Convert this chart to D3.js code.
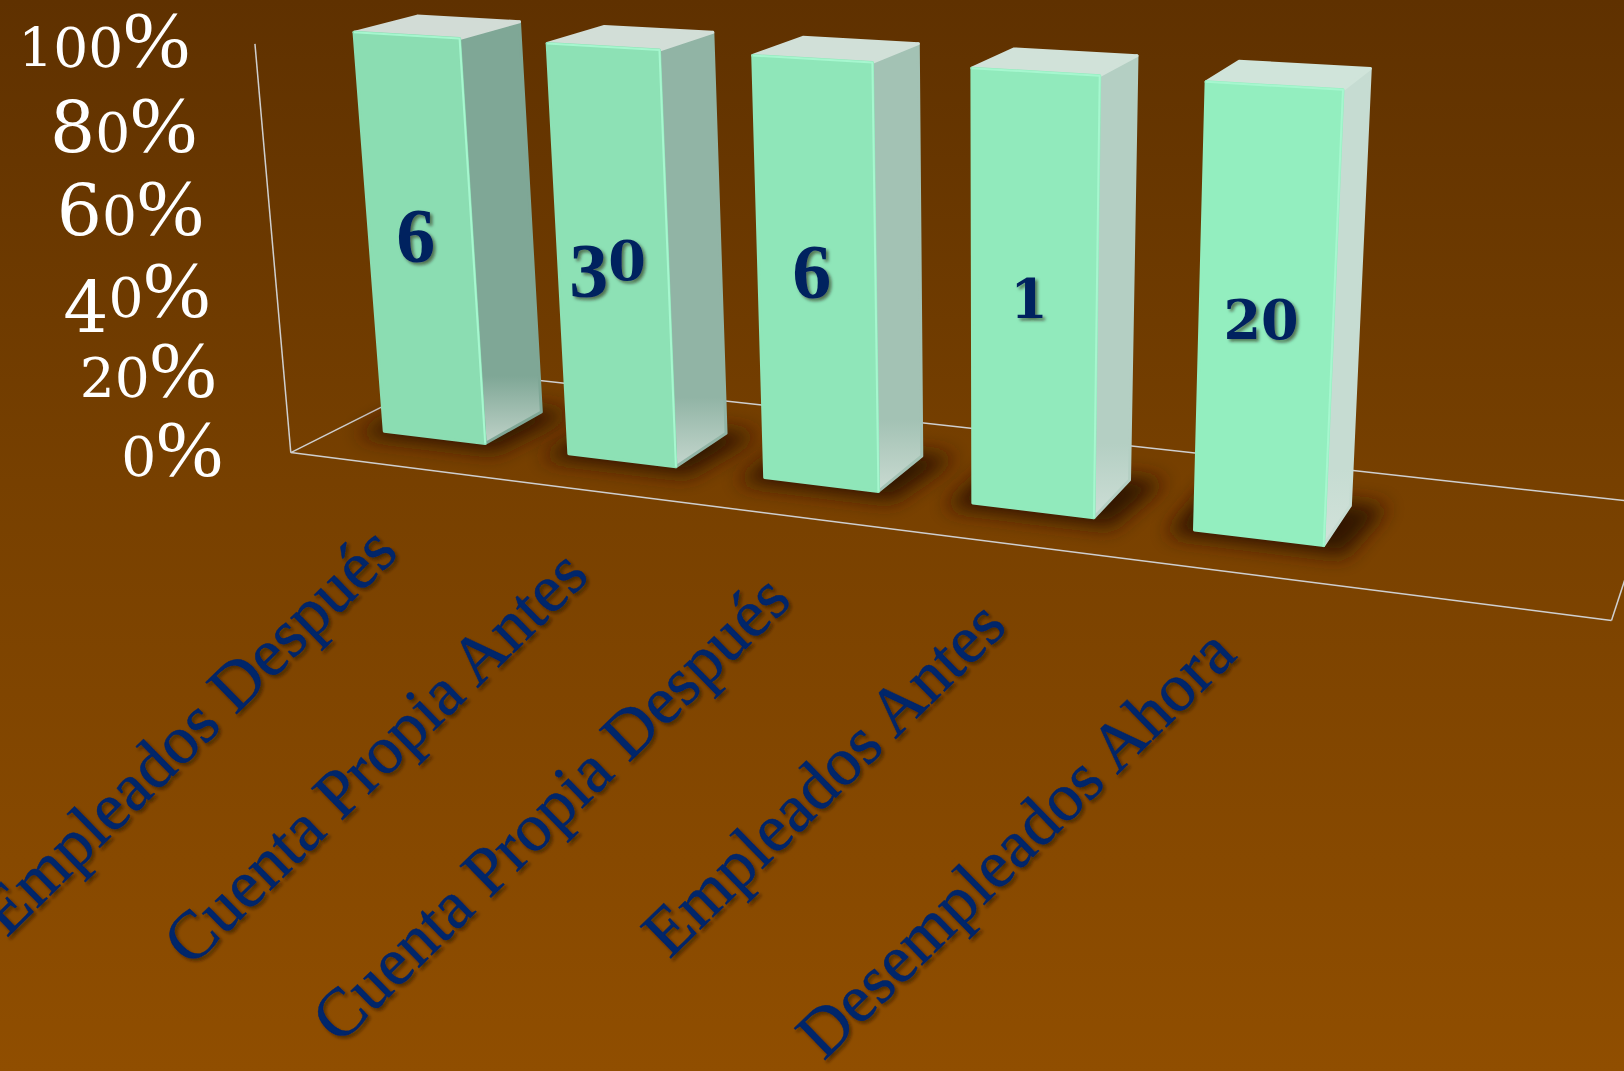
<!DOCTYPE html>
<html><head><meta charset="utf-8"><script src="https://cdn.jsdelivr.net/npm/d3@7"></script>
<style>html,body{margin:0;padding:0;background:#7a4000}svg{display:block}</style></head>
<body><svg id="c" width="1624" height="1071"></svg>
<script>
const categories=["Empleados Después","Cuenta Propia Antes","Cuenta Propia Después","Empleados Antes","Desempleados Ahora"];
const counts=[6,30,6,1,20];
const shares=[100,100,100,100,100];
const tickValues=[0,20,40,60,80,100];

const W=1624,H=1071,svg=d3.select("#c"),defs=svg.append("defs");
const x=d3.scaleBand().domain(categories).range([0,.84]).paddingInner(.446).paddingOuter(.23);
const y=d3.scaleLinear().domain([0,100]).range([0,1]);
const zF=.30,zB=.67;
// perspective camera: world (u along categories, v depth, t height) to page pixels
const cam=[1030.4771,212.6054,-48.2984,290.8023,57.7861,-41.0765,-410.9193,452.6194,-0.1760,0.1097,-0.0488];
const project=(u,v,t)=>{const w=cam[8]*u+cam[9]*v+cam[10]*t+1;return [(cam[0]*u+cam[1]*v+cam[2]*t+cam[3])/w,(cam[4]*u+cam[5]*v+cam[6]*t+cam[7])/w];};
const line=d3.line();
const idx=d3.scaleLinear().domain([0,categories.length-1]).range([0,1]);
const frontC=d3.interpolateRgb("#8bddb2","#93eebf"),sideC=d3.interpolateRgb("#7fa796","#c6dcd2"),sideL=d3.interpolateRgb("#bfd2c8","#d2e2da"),topC=d3.interpolateRgb("#d2dcd6","#d0e4da");

// background
const bg=defs.append("linearGradient").attr("id","bg").attr("x1",0).attr("x2",0).attr("y1",0).attr("y2",1);
[[0,"#5f3100"],[.45,"#774000"],[1,"#904e00"]].forEach(([o,c])=>bg.append("stop").attr("offset",o).attr("stop-color",c));
svg.append("rect").attr("width",W).attr("height",H).attr("fill","url(#bg)");

const blur=defs.append("filter").attr("id","blur").attr("x","-30%").attr("y","-50%").attr("width","160%").attr("height","200%");
blur.append("feGaussianBlur").attr("stdDeviation",10);
const ds=defs.append("filter").attr("id","ds").attr("x","-10%").attr("y","-10%").attr("width","130%").attr("height","130%");
ds.append("feDropShadow").attr("dx",2.5).attr("dy",2.5).attr("stdDeviation",1.5).attr("flood-color","#1e1000").attr("flood-opacity",.55);

// frame
const uEnd=1.005;
const frame=[[[0,0,0],[uEnd,0,0]],[[uEnd,0,0],[uEnd,1,0]],[[uEnd,1,0],[0,1,0]],[[0,1,0],[0,0,0]],[[0,0,0],[0,0,y(100)]]];
svg.append("g").selectAll("path").data(frame).join("path")
 .attr("d",d=>line(d.map(p=>project(...p)))).attr("fill","none").attr("stroke","#cfcfcf").attr("stroke-width",1.5);

// floor shadows
const bars=categories.map((c,i)=>({c,i,L:x(c),R:x(c)+x.bandwidth(),T:y(shares[i]),n:counts[i]}));
svg.append("g").selectAll("path").data(bars).join("path")
 .attr("d",d=>line([[d.L-.016,zF-.065],[d.R+.018,zF-.065],[d.R+.026,zB+.03],[d.L-.016,zB+.03]].map(p=>project(p[0],p[1],0)))+"Z")
 .attr("fill","#301700").attr("filter","url(#blur)");

// side gradients
bars.forEach(d=>{const g=defs.append("linearGradient").attr("id","side"+d.i).attr("x1",0).attr("x2",0).attr("y1",0).attr("y2",1);
 [[0,sideC(idx(d.i))],[.84,sideC(idx(d.i))],[1,sideL(idx(d.i))]].forEach(([o,c])=>g.append("stop").attr("offset",o).attr("stop-color",c));});

const gb=svg.append("g").selectAll("g").data(bars).join("g");
const face=(pts)=>line(pts.map(p=>project(...p)))+"Z";
gb.append("path").attr("d",d=>face([[d.R,zF,0],[d.R,zB,0],[d.R,zB,d.T],[d.R,zF,d.T]]))
 .attr("fill",d=>`url(#side${d.i})`).attr("stroke",d=>sideC(idx(d.i))).attr("stroke-width",3).attr("stroke-linejoin","round");
gb.append("path").attr("d",d=>face([[d.L,zF,d.T],[d.R,zF,d.T],[d.R,zB,d.T],[d.L,zB,d.T]]))
 .attr("fill",d=>topC(idx(d.i))).attr("stroke",d=>topC(idx(d.i))).attr("stroke-width",3).attr("stroke-linejoin","round");
gb.append("path").attr("d",d=>face([[d.L,zF,0],[d.R,zF,0],[d.R,zF,d.T],[d.L,zF,d.T]]))
 .attr("fill",d=>frontC(idx(d.i))).attr("stroke",d=>frontC(idx(d.i))).attr("stroke-width",3).attr("stroke-linejoin","round");
gb.append("path").attr("d",d=>line([[d.R,zF,0],[d.R,zF,d.T],[d.L,zF,d.T]].map(p=>project(...p))))
 .attr("fill","none").attr("stroke","#a6f7cf").attr("stroke-width",2).attr("stroke-linejoin","round");

// oldstyle numerals built from ordinary glyphs
function oldstyle(sel,str,o){let cur=0;
 for(const ch of String(str)){
  const small="012".includes(ch),pct=ch==="%",low="34579".includes(ch);
  const target=low?o.low:0;
  sel.append("tspan").attr("dy",target-cur).attr("font-size",pct?o.pct:small?o.small:o.big)
   .attr("font-family",pct?o.pctFont:small?o.smallFont:o.font).text(ch);
  cur=target;}
}
// tick labels
svg.append("g").attr("fill","#fff").selectAll("text").data(tickValues).join("text")
 .attr("transform",d=>{const p=project(0,0,y(d));return `translate(${p[0]-68+d*.03},${p[1]+23})`;})
 .attr("text-anchor","end")
 .each(function(d){oldstyle(d3.select(this),d+"%",{font:"DejaVu Serif",smallFont:"DejaVu Serif",pctFont:"Liberation Serif",big:71,small:55,pct:80,low:15});});

// category labels
svg.append("g").attr("fill","#00256a").attr("stroke","#00256a").attr("stroke-width",.5).attr("filter","url(#ds)").selectAll("text").data(bars).join("text")
 .attr("transform",d=>{const p=project(d.R,zF,0);return `translate(${p[0]-85},${p[1]+111}) rotate(-44.3)`;})
 .attr("text-anchor","end").attr("font-family","Liberation Serif").attr("font-size",68).text(d=>d.c);

// data labels
svg.append("g").attr("fill","#00205f").attr("filter","url(#ds)").selectAll("text").data(bars).join("text")
 .attr("transform",d=>{const p=project((d.L+d.R)/2,zF,y(50));return `translate(${p[0]-5},${p[1]+21})`;})
 .attr("text-anchor","middle").attr("font-weight","bold")
 .each(function(d){oldstyle(d3.select(this),d.n,{font:"Liberation Serif",smallFont:"DejaVu Serif",pctFont:"Liberation Serif",big:78,small:54,pct:76,low:17});});
</script></body></html>
